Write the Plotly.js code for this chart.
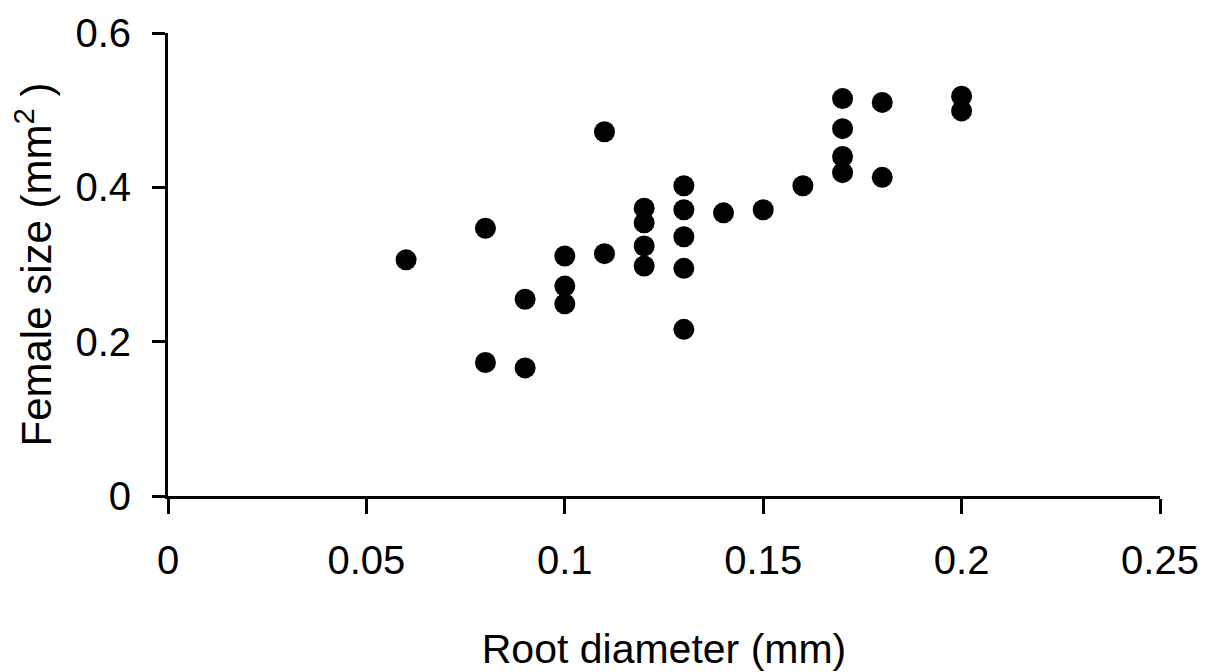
<!DOCTYPE html>
<html>
<head>
<meta charset="utf-8">
<script src="https://cdn.plot.ly/plotly-3.0.1.min.js"></script>
<style>html,body{margin:0;padding:0;background:#fff;}#chart{width:1205px;height:672px;}</style>
</head>
<body>
<div id="chart"></div>
<script>
const rootDiameter = [0.06, 0.08, 0.08, 0.09, 0.09, 0.10, 0.10, 0.10, 0.11, 0.11,
  0.12, 0.12, 0.12, 0.12, 0.13, 0.13, 0.13, 0.13, 0.13, 0.14, 0.15, 0.16,
  0.17, 0.17, 0.17, 0.17, 0.18, 0.18, 0.20, 0.20];
const femaleSize = [0.306, 0.347, 0.173, 0.255, 0.166, 0.311, 0.272, 0.249, 0.472, 0.314,
  0.373, 0.354, 0.324, 0.298, 0.402, 0.371, 0.336, 0.295, 0.216, 0.367, 0.371, 0.402,
  0.515, 0.476, 0.440, 0.419, 0.510, 0.413, 0.518, 0.499];
const xTicks = [0, 0.05, 0.1, 0.15, 0.2, 0.25];
const xTickLabels = ["0", "0.05", "0.1", "0.15", "0.2", "0.25"];
const yTicks = [0, 0.2, 0.4, 0.6];
const yTickLabels = ["0", "0.2", "0.4", "0.6"];

const font = "Arial, 'Liberation Sans', sans-serif";
const trace = {
  x: rootDiameter, y: femaleSize, type: 'scatter', mode: 'markers',
  marker: {size: 21, color: '#000'}, hoverinfo: 'skip', cliponaxis: false
};
const layout = {
  width: 1205, height: 672,
  margin: {l: 168, r: 45, t: 33, b: 176},
  paper_bgcolor: '#fff', plot_bgcolor: '#fff',
  showlegend: false,
  font: {family: font, color: '#000'},
  xaxis: {
    range: [0, 0.25], tickvals: xTicks, ticktext: xTickLabels,
    showgrid: false, zeroline: false, showline: true, linecolor: '#000', linewidth: 3,
    ticks: 'outside', ticklen: 15, tickwidth: 3, tickcolor: '#000',
    tickfont: {size: 40, family: font}, ticklabelstandoff: 12,
    title: {text: 'Root diameter (mm)', font: {size: 41, family: font}, standoff: 55},
    automargin: false
  },
  yaxis: {
    range: [0, 0.6], tickvals: yTicks, ticktext: yTickLabels,
    showgrid: false, zeroline: false, showline: true, linecolor: '#000', linewidth: 3,
    ticks: 'outside', ticklen: 13, tickwidth: 3, tickcolor: '#000',
    tickfont: {size: 40, family: font}, ticklabelstandoff: 13,
    title: {text: 'Female size (mm<sup>2</sup> )', font: {size: 42, family: font}, standoff: 11},
    automargin: false
  }
};
Plotly.newPlot('chart', [trace], layout, {staticPlot: true});
</script>
</body>
</html>
